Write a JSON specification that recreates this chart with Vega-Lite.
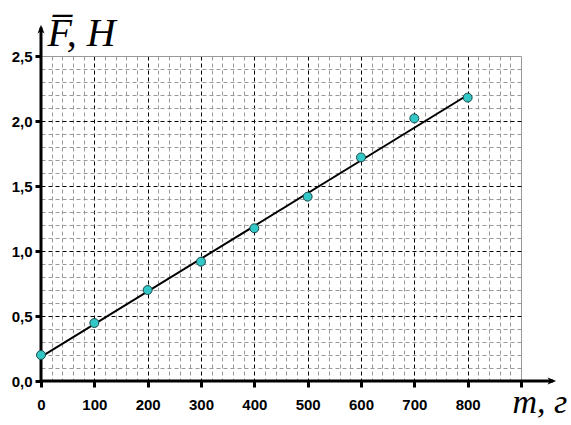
{
  "$schema": "https://vega.github.io/schema/vega-lite/v6.json",
  "width": 480,
  "height": 325,
  "autosize": {"type": "none"},
  "padding": {"left": 41, "top": 56, "right": 50, "bottom": 44},
  "background": "white",
  "config": {"view": {"stroke": null}},
  "datasets": {
    "points": [
      {"m": 0, "F": 0.2},
      {"m": 100, "F": 0.446},
      {"m": 200, "F": 0.70},
      {"m": 300, "F": 0.918},
      {"m": 400, "F": 1.175},
      {"m": 500, "F": 1.418},
      {"m": 600, "F": 1.72},
      {"m": 700, "F": 2.02},
      {"m": 800, "F": 2.18}
    ],
    "fit": [
      {"m": 0, "F": 0.185},
      {"m": 800, "F": 2.2}
    ],
    "one": [{}]
  },
  "layer": [
    {
      "data": {"name": "points"},
      "mark": {"type": "point", "opacity": 0},
      "encoding": {
        "x": {
          "field": "m", "type": "quantitative",
          "scale": {"domain": [0, 900], "nice": false, "zero": false},
          "axis": {
            "values": [0,20,40,60,80,100,120,140,160,180,200,220,240,260,280,300,320,340,360,380,400,420,440,460,480,500,520,540,560,580,600,620,640,660,680,700,720,740,760,780,800,820,840,860,880,900],
            "tickCount": 1000,
            "grid": true,
            "gridColor": {"condition": {"test": "datum.value % 100 === 0 && datum.value < 900", "value": "#000000"}, "value": "#999999"},
            "gridDash": {"condition": {"test": "datum.value === 900", "value": []}, "value": [4, 3]},
            "gridWidth": 1,
            "domain": false,
            "ticks": true,
            "tickColor": "#000000",
            "tickWidth": 3,
            "tickSize": 6,
            "tickOpacity": {"condition": {"test": "datum.value % 100 === 0", "value": 1}, "value": 0},
            "labelExpr": "datum.value % 100 === 0 && datum.value < 900 ? datum.label : ''",
            "labelFont": "Liberation Sans",
            "labelFontWeight": "bold",
            "labelFontSize": 15,
            "labelColor": "#000000",
            "labelPadding": 10,
            "labelFlush": false,
            "labelOverlap": false,
            "title": "m, г",
            "titleFont": "Liberation Serif",
            "titleFontStyle": "italic",
            "titleFontWeight": "normal",
            "titleFontSize": 34,
            "titleColor": "#000000",
            "titleX": 471,
            "titleY": 31,
            "titleAlign": "left",
            "titleBaseline": "alphabetic",
            "titleAnchor": null
          }
        },
        "y": {
          "field": "F", "type": "quantitative",
          "scale": {"domain": [0, 2.5], "nice": false, "zero": false},
          "axis": {
            "values": [0,0.1,0.2,0.3,0.4,0.5,0.6,0.7,0.8,0.9,1.0,1.1,1.2,1.3,1.4,1.5,1.6,1.7,1.8,1.9,2.0,2.1,2.2,2.3,2.4,2.5],
            "tickCount": 1000,
            "grid": true,
            "gridColor": {"condition": {"test": "abs(datum.value*2 - round(datum.value*2)) < 0.001 && datum.value < 2.45", "value": "#000000"}, "value": "#999999"},
            "gridDash": {"condition": {"test": "datum.value > 2.45", "value": []}, "value": [4, 3]},
            "gridWidth": 1,
            "domain": false,
            "ticks": true,
            "tickColor": "#000000",
            "tickWidth": 3,
            "tickSize": 6,
            "tickOpacity": {"condition": {"test": "abs(datum.value*2 - round(datum.value*2)) < 0.001", "value": 1}, "value": 0},
            "labelExpr": "abs(datum.value*2 - round(datum.value*2)) < 0.001 ? replace(format(datum.value, '.1f'), '.', ',') : ''",
            "labelFont": "Liberation Sans",
            "labelFontWeight": "bold",
            "labelFontSize": 15,
            "labelColor": "#000000",
            "labelPadding": 3,
            "labelFlush": false,
            "labelOverlap": false,
            "title": "F̅, H",
            "titleFont": "Liberation Serif",
            "titleFontStyle": "italic",
            "titleFontWeight": "normal",
            "titleFontSize": 40,
            "titleColor": "#000000",
            "titleAngle": 0,
            "titleX": 6,
            "titleY": -11,
            "titleAlign": "left",
            "titleBaseline": "alphabetic",
            "titleAnchor": null
          }
        }
      }
    },
    {
      "data": {"name": "one"},
      "mark": {"type": "rule", "color": "#000000", "strokeWidth": 3, "clip": false},
      "encoding": {
        "x": {"datum": 0, "type": "quantitative"},
        "y": {"datum": 0, "type": "quantitative"},
        "x2": {"datum": 960},
        "y2": {"datum": 0}
      }
    },
    {
      "data": {"name": "one"},
      "mark": {"type": "rule", "color": "#000000", "strokeWidth": 3, "clip": false},
      "encoding": {
        "x": {"datum": 0, "type": "quantitative"},
        "y": {"datum": 0, "type": "quantitative"},
        "x2": {"datum": 0},
        "y2": {"datum": 2.72}
      }
    },
    {
      "data": {"name": "one"},
      "mark": {"type": "point", "shape": "M0,0 L-1,-0.4 L-0.75,0 L-1,0.4 Z", "filled": true, "color": "#000000", "size": 300, "opacity": 1, "clip": false},
      "encoding": {
        "x": {"datum": 966, "type": "quantitative"},
        "y": {"datum": 0, "type": "quantitative"}
      }
    },
    {
      "data": {"name": "one"},
      "mark": {"type": "point", "shape": "M0,0 L-0.4,1 L0,0.75 L0.4,1 Z", "filled": true, "color": "#000000", "size": 300, "opacity": 1, "clip": false},
      "encoding": {
        "x": {"datum": 0, "type": "quantitative"},
        "y": {"datum": 2.74, "type": "quantitative"}
      }
    },
    {
      "data": {"name": "fit"},
      "mark": {"type": "line", "color": "#000000", "strokeWidth": 2},
      "encoding": {
        "x": {"field": "m", "type": "quantitative"},
        "y": {"field": "F", "type": "quantitative"}
      }
    },
    {
      "data": {"name": "points"},
      "mark": {"type": "circle", "size": 80, "fill": "#33C7C7", "stroke": "#1a4a4a", "strokeWidth": 1, "opacity": 1, "clip": false},
      "encoding": {
        "x": {"field": "m", "type": "quantitative"},
        "y": {"field": "F", "type": "quantitative"}
      }
    }
  ]
}
